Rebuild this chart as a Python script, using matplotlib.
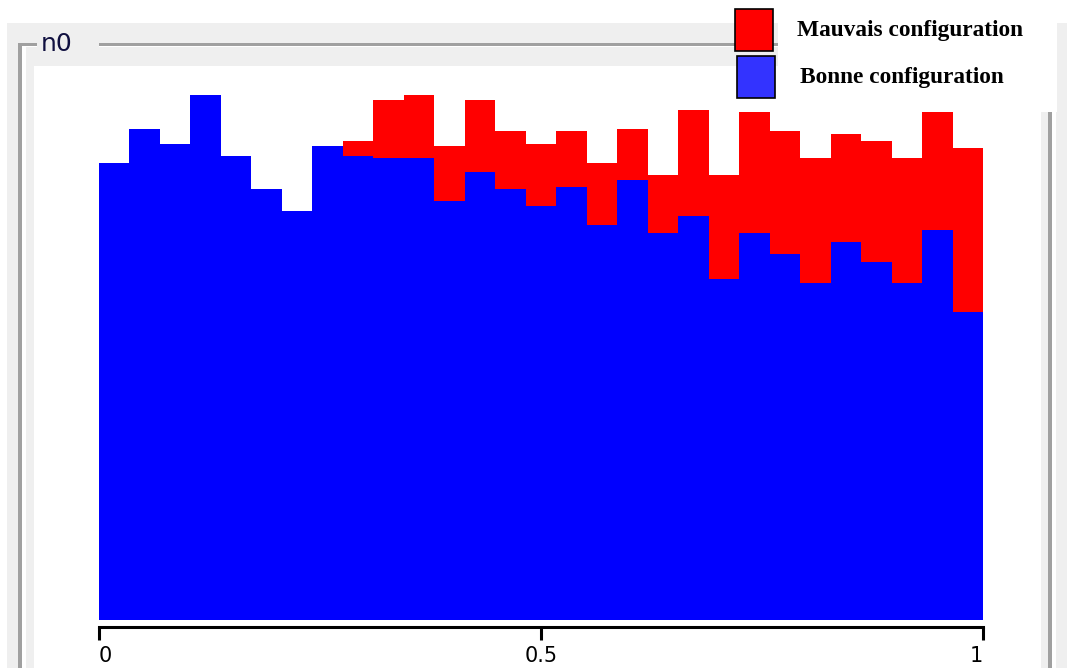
import numpy as np
import matplotlib.pyplot as plt
from matplotlib.patches import Rectangle

# histogram of n0, 29 bins on [0, 1]
bins = np.linspace(0, 1, 30)
bonne = [457, 491, 476, 525, 464, 431, 409, 474, 464, 462, 462, 419, 448, 431, 414,
         433, 395, 440, 387, 404, 341, 387, 366, 337, 378, 358, 337, 390, 308]
mauvais = [0, 0, 0, 0, 0, 0, 0, 0, 15, 58, 63, 55, 72, 58, 62,
           56, 62, 51, 58, 106, 104, 121, 123, 125, 108, 121, 125, 118, 164]
ticks = [0, 0.5, 1]
tick_labels = ["0", "0.5", "1"]
labels = ["Mauvais configuration", "Bonne configuration"]

W, H = 1067, 668
fig = plt.figure(figsize=(W / 100, H / 100), dpi=100)
fig.patch.set_facecolor("white")


def box(x0, y0, x1, y1, color, z=-5, ec="none", lw=0):
    # rectangle given in pixel coords, origin top-left
    r = Rectangle((x0 / W, 1 - y1 / H), (x1 - x0) / W, (y1 - y0) / H,
                  transform=fig.transFigure, facecolor=color, edgecolor=ec,
                  lw=lw, zorder=z)
    fig.add_artist(r)


# window / group box background
box(7, 23, W, H, "#efefef", -6)
box(18, 43, 22, H, "#a0a0a0", -5)
box(22, 47, 26, H, "white", -5)
box(18, 43, 1052, 46, "#a0a0a0", -5)
box(22, 46, 1048, 47, "white", -5)
box(1048, 43, 1052, H, "#a0a0a0", -5)
box(1052, 43, 1056, H, "white", -5)
box(34, 66, 1041, H, "white", -4)
# title of the group box
box(37, 36, 99, 52, "#efefef", -3)
fig.text(41 / W, 1 - 44 / H, "n0", fontsize=18, color="#101040",
         ha="left", va="center")

# legend panel
box(778, 0, 1057, 112, "white", 4)
box(735, 9, 773, 51, "#ff0000", 5, ec="black", lw=1.2)
box(737, 56, 775, 98, "#3333ff", 5, ec="black", lw=1.2)
fig.text(797 / W, 1 - 36 / H, labels[0], family="Liberation Serif",
         weight="bold", fontsize=16.8, va="baseline", zorder=6)
fig.text(800 / W, 1 - 83 / H, labels[1], family="Liberation Serif",
         weight="bold", fontsize=16.8, va="baseline", zorder=6)

# plot
ax = fig.add_axes([99 / W, 1 - 620 / H, 884 / W, 554 / H])
ax.set_facecolor("none")
ax.bar(bins[:-1], bonne, width=np.diff(bins), align="edge",
       color="#0000ff", linewidth=0, antialiased=False)
ax.bar(bins[:-1], mauvais, width=np.diff(bins), align="edge", bottom=bonne,
       color="#ff0000", linewidth=0, antialiased=False)
ax.set_xlim(0, 1)
ax.set_ylim(0, 554)

for s in ["top", "left", "right"]:
    ax.spines[s].set_visible(False)
ax.spines["bottom"].set_position(("outward", 5))
ax.spines["bottom"].set_linewidth(2.2)
ax.set_yticks([])
ax.set_xticks(ticks)
ax.set_xticklabels(tick_labels, fontsize=15)
ax.tick_params(axis="x", direction="out", length=9, width=2.2, pad=5)
tl = ax.get_xticklabels()
tl[0].set_ha("left")
tl[-1].set_ha("right")

plt.savefig("out.png", dpi=100)
